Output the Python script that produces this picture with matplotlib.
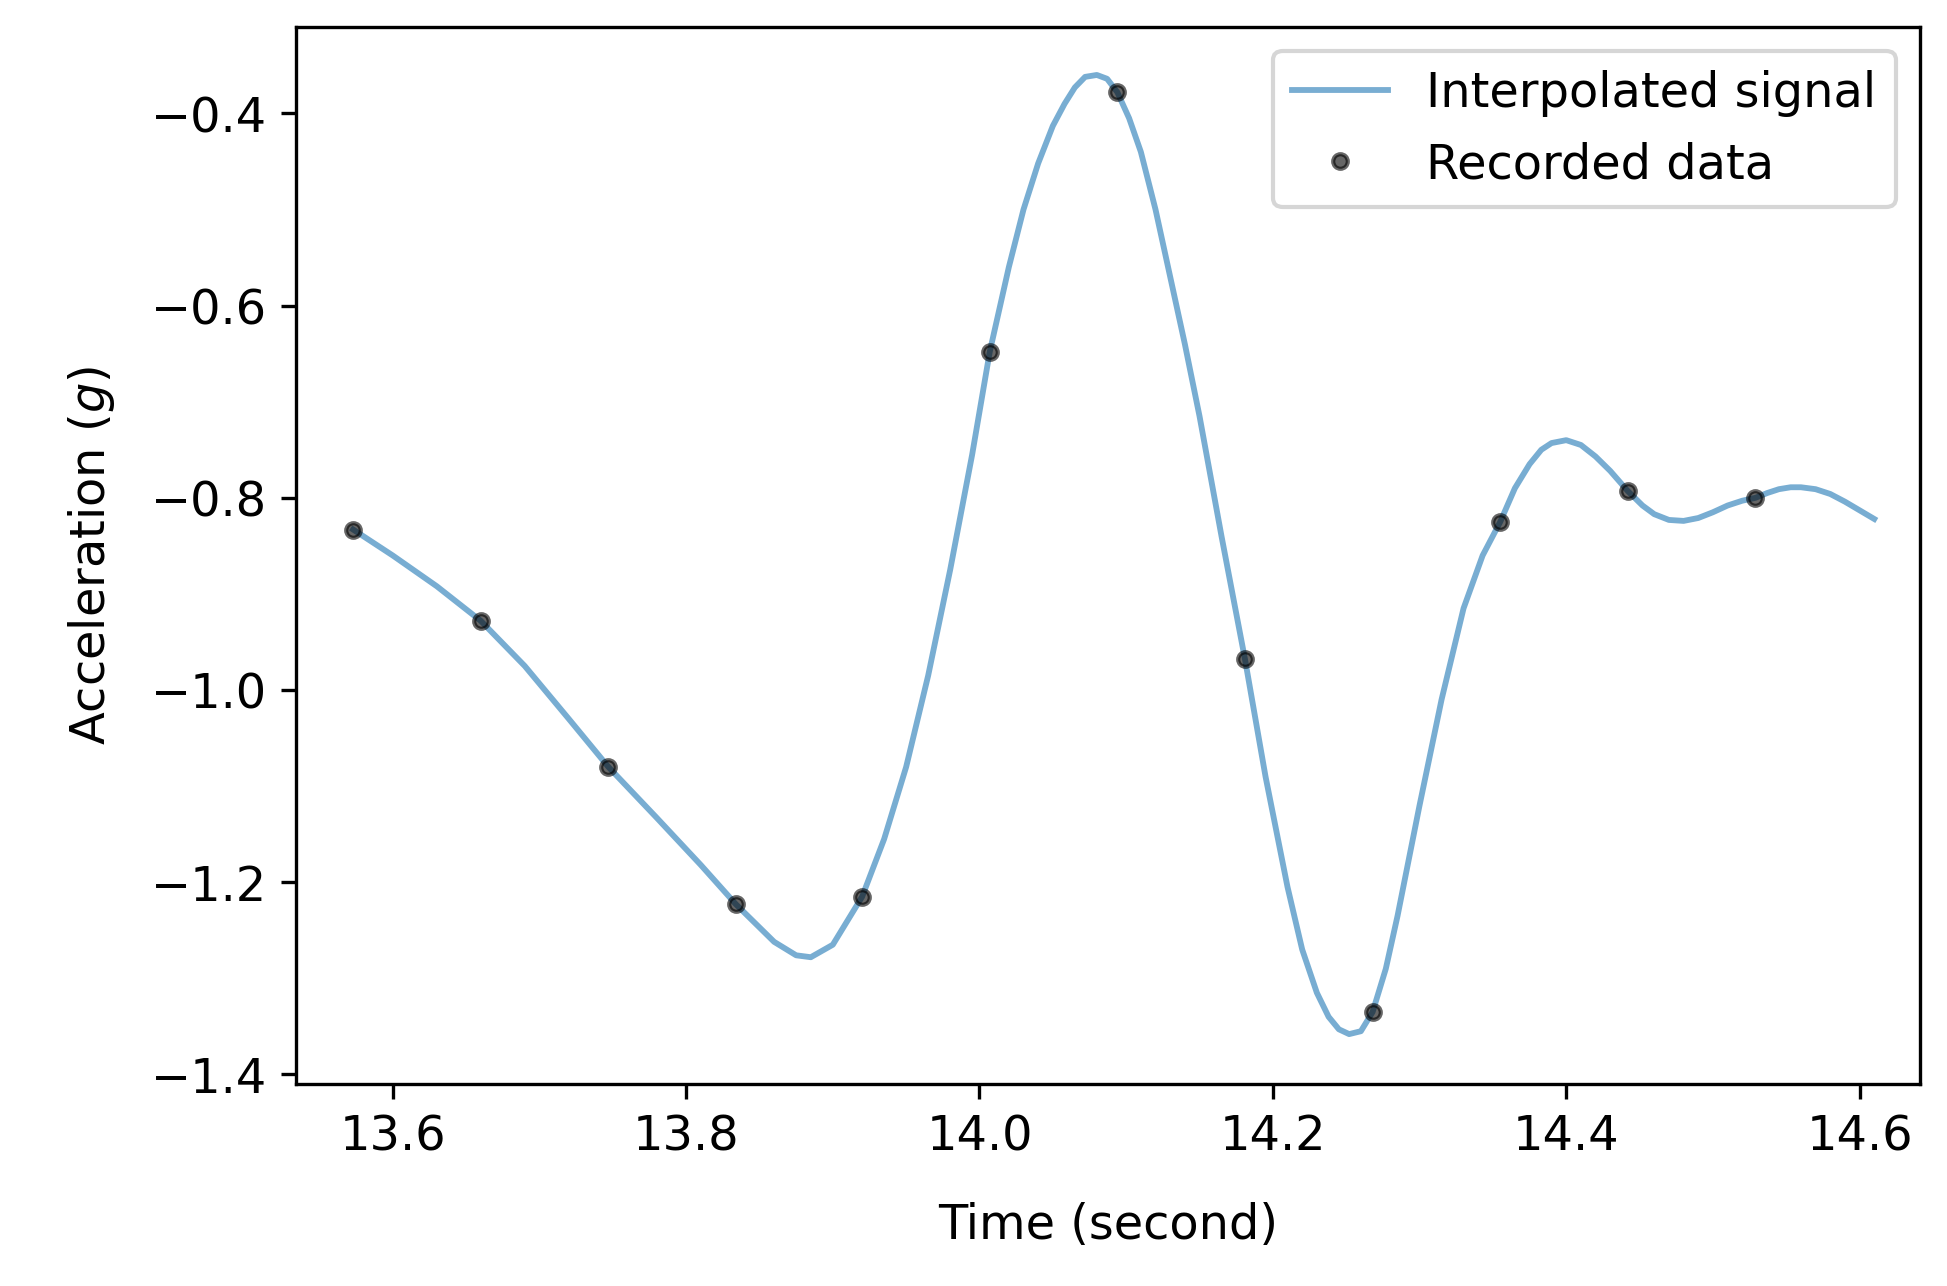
import matplotlib.pyplot as plt

# recorded samples
rec_t = [13.573, 13.660, 13.747, 13.834, 13.920, 14.007, 14.094, 14.181,
         14.268, 14.355, 14.442, 14.529]
rec_a = [-0.833, -0.928, -1.080, -1.223, -1.215, -0.648, -0.378, -0.968,
         -1.335, -0.825, -0.793, -0.800]

# interpolated curve
sig_t = [13.573, 13.60, 13.63, 13.66, 13.69, 13.72, 13.747, 13.78, 13.81,
         13.834, 13.86, 13.875, 13.885, 13.90, 13.92, 13.935, 13.95, 13.965,
         13.98, 13.995, 14.007, 14.02, 14.03, 14.04, 14.05, 14.058, 14.065,
         14.072, 14.08, 14.087, 14.094, 14.102, 14.11, 14.12, 14.13, 14.14,
         14.15, 14.165, 14.181, 14.195, 14.21, 14.22, 14.23, 14.238, 14.245,
         14.252, 14.26, 14.268, 14.277, 14.285, 14.30, 14.315, 14.33, 14.343,
         14.355, 14.365, 14.375, 14.383, 14.39, 14.40, 14.41, 14.42, 14.43,
         14.442, 14.452, 14.46, 14.47, 14.48, 14.49, 14.50, 14.51, 14.52,
         14.529, 14.537, 14.545, 14.553, 14.56, 14.57, 14.58, 14.59, 14.60,
         14.61]
sig_a = [-0.833, -0.860, -0.892, -0.928, -0.975, -1.030, -1.080, -1.133, -1.182,
         -1.223, -1.262, -1.276, -1.278, -1.265, -1.215, -1.155, -1.080, -0.985,
         -0.875, -0.755, -0.648, -0.560, -0.500, -0.452, -0.413, -0.390, -0.373,
         -0.362, -0.360, -0.364, -0.378, -0.405, -0.440, -0.500, -0.570, -0.640,
         -0.715, -0.840, -0.968, -1.090, -1.205, -1.270, -1.315, -1.340, -1.353,
         -1.358, -1.355, -1.335, -1.290, -1.235, -1.120, -1.010, -0.915, -0.860,
         -0.825, -0.790, -0.765, -0.750, -0.743, -0.740, -0.745, -0.757, -0.772,
         -0.793, -0.808, -0.817, -0.823, -0.824, -0.821, -0.815, -0.808, -0.803,
         -0.800, -0.795, -0.791, -0.789, -0.789, -0.791, -0.796, -0.804, -0.813,
         -0.822]

plt.rcParams["font.size"] = 11.5

fig, ax = plt.subplots(figsize=(6.49, 4.287), dpi=300)
fig.subplots_adjust(left=0.152, right=0.986, top=0.979, bottom=0.157)

ax.plot(sig_t, sig_a, color="tab:blue", alpha=0.6, linewidth=1.4,
        label="Interpolated signal")
ax.plot(rec_t, rec_a, "o", color="black", alpha=0.6, markersize=3.5,
        label="Recorded data")

ax.set_ylim(-1.41, -0.31)
ax.set_xlim(13.534, 14.641)
ax.set_xticks([13.6, 13.8, 14.0, 14.2, 14.4, 14.6])
ax.set_xlabel("Time (second)", labelpad=10)
ax.set_ylabel("Acceleration ($g$)", labelpad=8)
ax.legend(loc="upper right")

fig.savefig("out.png")
